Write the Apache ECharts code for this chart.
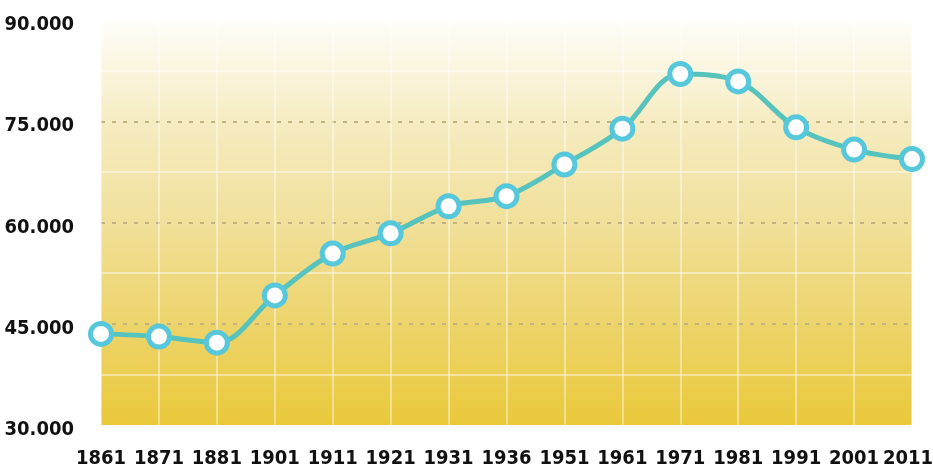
<!DOCTYPE html>
<html>
<head>
<meta charset="utf-8">
<script src="https://cdn.jsdelivr.net/npm/echarts@6/dist/echarts.min.js"></script>
<style>html,body{margin:0;padding:0;background:#fff}#c{width:933px;height:474px}</style>
</head>
<body>
<div id="c"></div>
<script>
var years = ['1861','1871','1881','1901','1911','1921','1931','1936','1951','1961','1971','1981','1991','2001','2011'];
var population = [43500,43100,42200,49200,55400,58400,62400,63900,68600,73900,82000,80900,74100,70800,69400];
var yMin = 30000, yMax = 90000, yMinorStep = 7500, yLabelStep = 15000;

var FONT = "'Liberation Sans Narrow','DejaVu Sans Condensed',sans-serif";
var chart = echarts.init(document.getElementById('c'));
function fmt(v){ return Math.round(v/1000) + '.000'; }
var lbl = {color:'#111',fontFamily:FONT,fontWeight:'bold',fontSize:20};
chart.setOption({
  animation:false,
  backgroundColor:'#ffffff',
  grid:{left:101,right:21,top:20,bottom:49,show:true,borderWidth:0,outerBoundsMode:'none',containLabel:false,
    backgroundColor:{type:'linear',x:0,y:0,x2:0,y2:1,colorStops:[
      {offset:0,color:'#fffefa'},
      {offset:0.25,color:'#f6ecc2'},
      {offset:0.5,color:'#f1e09a'},
      {offset:0.75,color:'#edd46b'},
      {offset:1,color:'#eac93a'}]}},
  xAxis:{type:'category',data:years,boundaryGap:false,
    axisLine:{show:false},axisTick:{show:false},
    axisLabel:{color:'#111',fontFamily:FONT,fontWeight:'bold',fontSize:20,margin:24,interval:0,hideOverlap:false,
      formatter:function(v,i){ return i === years.length-1 ? '{e|'+v+'}' : '{n|'+v+'}'; },
      rich:{n:lbl, e:Object.assign({padding:[0,8,0,0]},lbl)}},
    splitLine:{show:true,interval:0,lineStyle:{color:'rgba(255,255,255,0.55)',width:1.5}}},
  yAxis:[{type:'value',min:yMin,max:yMax,interval:yMinorStep,
    axisLine:{show:false},axisTick:{show:false},
    axisLabel:{color:'#111',fontFamily:FONT,fontWeight:'bold',fontSize:20,margin:27,
      formatter:function(v){ return (v % yLabelStep === 0) ? '{a|' + fmt(v) + '}' : ''; },
      rich:{a:Object.assign({padding:[10,0,0,0]},lbl)}},
    splitLine:{show:true,lineStyle:{color:['transparent','rgba(255,255,255,0.6)'],width:1.5}}},
   {type:'value',min:yMin,max:yMax,interval:yLabelStep,position:'left',
    axisLine:{show:false},axisTick:{show:false},axisLabel:{show:false},
    splitLine:{show:true,lineStyle:{color:['transparent','#c2b280','#c2b280','#c2b280','transparent'],type:[4,7],width:2}}}],
  series:[{type:'line',data:population,smooth:0.35,yAxisIndex:0,
    lineStyle:{color:'#57c3bd',width:5},
    symbol:'circle',symbolSize:21,
    itemStyle:{color:'#ffffff',borderColor:'#57c8dc',borderWidth:5},
    z:5}]
});
</script>
</body>
</html>
